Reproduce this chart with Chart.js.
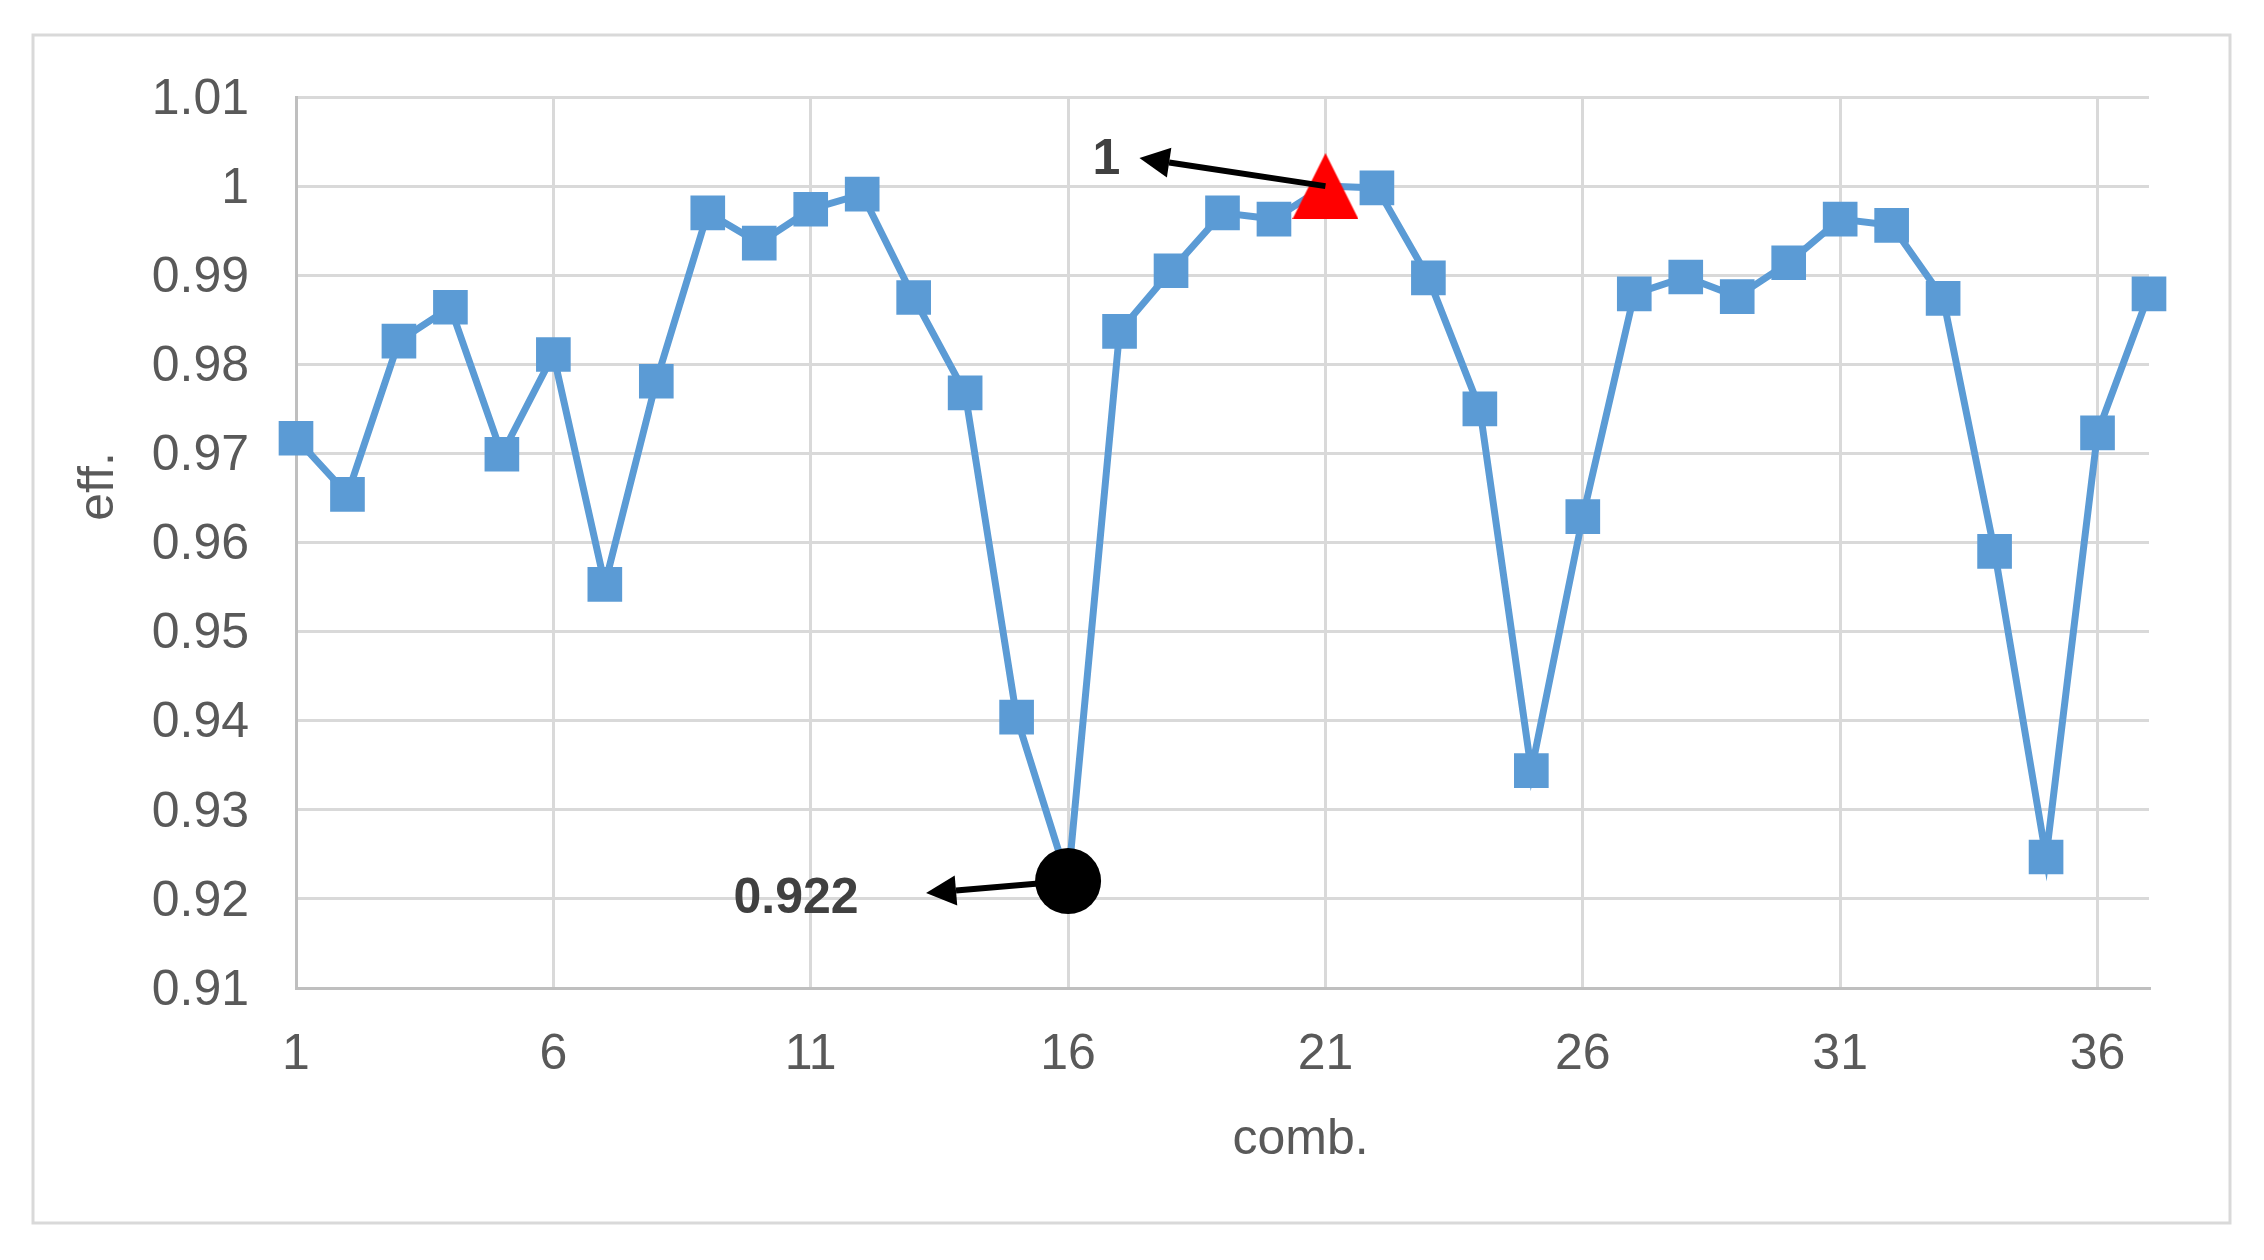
<!DOCTYPE html>
<html lang="en">
<head>
<meta charset="UTF-8" />
<title>eff. vs comb.</title>
<script src="https://cdn.jsdelivr.net/npm/chart.js"></script>
<style>
  html, body { margin: 0; padding: 0; background: #fff; }
  #wrap { width: 2264px; height: 1260px; position: relative; }
</style>
</head>
<body>
<div id="wrap"><canvas id="effChart"></canvas></div>

<script>
  // x categories (combination number)
  const comb = ['1','2','3','4','5','6','7','8','9','10','11','12','13','14','15','16','17','18','19',
                '20','21','22','23','24','25','26','27','28','29','30','31','32','33','34','35','36','37'];
  // efficiency for each combination
  const eff = [0.9717, 0.9654, 0.9826, 0.9864, 0.9699, 0.9811, 0.9553, 0.9781, 0.9970, 0.9936,
               0.9974, 0.9991, 0.9875, 0.9768, 0.9404, 0.922,  0.9837, 0.9905, 0.9970, 0.9963,
               1,      0.9998, 0.9897, 0.9750, 0.9344, 0.9629, 0.9879, 0.9898, 0.9876, 0.9914,
               0.9963, 0.9956, 0.9874, 0.9590, 0.9247, 0.9723, 0.9879];
  // labelled x ticks and y range
  const xTickLabels = ['1','6','11','16','21','26','31','36'];
  const yMin = 0.91, yMax = 1.01, yStep = 0.01;

  const iMax = eff.indexOf(Math.max(...eff));
  const iMin = eff.indexOf(Math.min(...eff));

  const BLUE = '#5B9BD5';
  const FONT = '"Liberation Sans", Arial, sans-serif';
  Chart.defaults.font.family = FONT;

  // red triangle for the max point, as a small canvas so it sits centred
  const tri = document.createElement('canvas');
  tri.width = 66; tri.height = 66;
  const tctx = tri.getContext('2d');
  tctx.fillStyle = '#FF0000';
  tctx.beginPath();
  tctx.moveTo(33, 0); tctx.lineTo(66, 66); tctx.lineTo(0, 66);
  tctx.closePath(); tctx.fill();

  const pointStyles = eff.map((v, i) => i === iMax ? tri : (i === iMin ? 'circle' : 'rect'));
  const pointRadii = eff.map((v, i) => i === iMin ? 33 : 24.5);
  const pointColors = eff.map((v, i) => i === iMin ? '#000000' : BLUE);

  function callout(c, px, py, dx, dy, tx, ty, text) {
    const hx = px + dx, hy = py + dy;
    const ang = Math.atan2(py - hy, px - hx);
    const len = 30, half = 15;
    const bx = hx + Math.cos(ang) * len, by = hy + Math.sin(ang) * len;
    c.save();
    c.strokeStyle = '#000'; c.fillStyle = '#000'; c.lineWidth = 6;
    c.beginPath(); c.moveTo(px, py); c.lineTo(bx, by); c.stroke();
    c.beginPath();
    c.moveTo(hx, hy);
    c.lineTo(bx - Math.sin(ang) * half, by + Math.cos(ang) * half);
    c.lineTo(bx + Math.sin(ang) * half, by - Math.cos(ang) * half);
    c.closePath(); c.fill();
    c.fillStyle = '#404040';
    c.font = 'bold 50px ' + FONT;
    c.textAlign = 'center'; c.textBaseline = 'middle';
    c.fillText(text, hx + tx, hy + ty);
    c.restore();
  }

  const decorations = {
    id: 'decorations',
    beforeDraw(chart) {
      const c = chart.ctx;
      c.save();
      c.fillStyle = '#fff';
      c.fillRect(0, 0, chart.width, chart.height);
      c.strokeStyle = '#d9d9d9'; c.lineWidth = 3;
      c.strokeRect(33, 35, 2197, 1188);
      c.restore();
    },
    afterDatasetsDraw(chart) {
      const { ctx: c, chartArea: a, scales: { x, y } } = chart;
      c.save();
      c.fillStyle = '#595959';
      c.font = '50px ' + FONT;
      c.textAlign = 'center';
      c.textBaseline = 'alphabetic';
      c.fillText('comb.', (a.left + a.right) / 2 + 78, a.bottom + 166);
      c.translate(113, (a.top + a.bottom) / 2 - 56);
      c.rotate(-Math.PI / 2);
      c.fillText('eff.', 0, 0);
      c.restore();

      callout(c, x.getPixelForValue(iMax), y.getPixelForValue(eff[iMax]), -186, -28, -33, 2, String(eff[iMax]));
      callout(c, x.getPixelForValue(iMin), y.getPixelForValue(eff[iMin]), -142, 12, -130, 6, String(eff[iMin]));
    }
  };

  new Chart(document.getElementById('effChart'), {
    type: 'line',
    data: {
      labels: comb,
      datasets: [{
        data: eff,
        borderColor: BLUE,
        borderWidth: 7,
        tension: 0,
        pointStyle: pointStyles,
        pointRadius: pointRadii,
        pointHoverRadius: pointRadii,
        pointBackgroundColor: pointColors,
        pointBorderWidth: 0
      }]
    },
    options: {
      responsive: true,
      maintainAspectRatio: false,
      animation: false,
      events: [],
      layout: { padding: { top: 97, right: 115, left: 0, bottom: 0 } },
      plugins: { legend: { display: false }, tooltip: { enabled: false } },
      scales: {
        x: {
          type: 'category',
          offset: false,
          grid: {
            drawTicks: false,
            lineWidth: 3,
            color: ctx => xTickLabels.includes(comb[ctx.index]) ? '#d9d9d9' : 'rgba(0,0,0,0)'
          },
          border: { color: '#bfbfbf', width: 3 },
          ticks: {
            autoSkip: false,
            maxRotation: 0,
            padding: 37,
            color: '#595959',
            font: { size: 50 },
            callback: (v, i) => xTickLabels.includes(comb[i]) ? comb[i] : ''
          },
          afterFit: s => { s.height = 272; }
        },
        y: {
          min: yMin,
          max: yMax,
          grid: { drawTicks: false, lineWidth: 3, color: '#d9d9d9' },
          border: { color: '#bfbfbf', width: 3 },
          ticks: {
            stepSize: yStep,
            padding: 47,
            labelOffset: 3,
            color: '#595959',
            font: { size: 50 },
            callback: v => String(parseFloat(v.toFixed(2)))
          },
          afterFit: s => { s.width = 296; }
        }
      }
    },
    plugins: [decorations]
  });
</script>
</body>
</html>
